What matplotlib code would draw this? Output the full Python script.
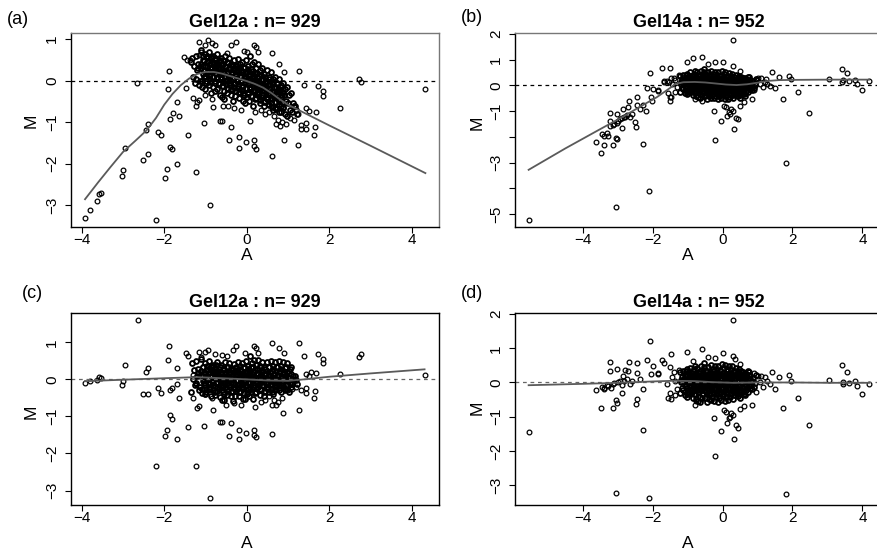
import matplotlib
matplotlib.use("Agg")
import matplotlib.pyplot as plt

plt.rcParams['font.family'] = ['Liberation Sans', 'DejaVu Sans']

W, H = 877, 550

# ---------------- datos ----------------
titles = ["Gel12a : n= 929", "Gel14a : n= 952", "Gel12a : n= 929", "Gel14a : n= 952"]
letters = ["(a)", "(b)", "(c)", "(d)"]

# nucleo denso de Gel12a (mismos A en (a) y (c))
gel12_core_A = [
    -1.32, -1.27, -1.30, -1.25, -1.34,
    -1.22, -1.17, -1.20, -1.24, -1.15, -1.19,
    -1.12, -1.07, -1.10, -1.05, -1.13, -1.08, -1.11,
    -1.02, -0.97, -1.00, -0.95, -1.03, -0.98, -1.01, -0.96,
    -0.92, -0.87, -0.90, -0.85, -0.93, -0.88, -0.91, -0.86, -0.89,
    -0.82, -0.77, -0.80, -0.75, -0.83, -0.78, -0.81, -0.76, -0.79,
    -0.72, -0.67, -0.70, -0.65, -0.73, -0.68, -0.71, -0.66, -0.69, -0.74,
    -0.62, -0.57, -0.60, -0.55, -0.63, -0.58, -0.61, -0.56, -0.59, -0.64,
    -0.52, -0.47, -0.50, -0.45, -0.53, -0.48, -0.51, -0.46, -0.49, -0.54, -0.44,
    -0.42, -0.37, -0.40, -0.35, -0.43, -0.38, -0.41, -0.36, -0.39, -0.44, -0.34,
    -0.32, -0.27, -0.30, -0.25, -0.33, -0.28, -0.31, -0.26, -0.29, -0.34, -0.24,
    -0.22, -0.17, -0.20, -0.15, -0.23, -0.18, -0.21, -0.16, -0.19, -0.24, -0.14,
    -0.12, -0.07, -0.10, -0.05, -0.13, -0.08, -0.11, -0.06, -0.09, -0.14, -0.04,
    -0.02, 0.03, 0.00, 0.05, -0.03, 0.02, -0.01, 0.04, 0.01, -0.04, 0.06,
    0.08, 0.13, 0.10, 0.15, 0.07, 0.12, 0.09, 0.14, 0.11, 0.06, 0.16,
    0.18, 0.23, 0.20, 0.25, 0.17, 0.22, 0.19, 0.24, 0.21, 0.16, 0.26,
    0.28, 0.33, 0.30, 0.35, 0.27, 0.32, 0.29, 0.34, 0.31, 0.26,
    0.38, 0.43, 0.40, 0.45, 0.37, 0.42, 0.39, 0.44, 0.41, 0.36,
    0.48, 0.53, 0.50, 0.55, 0.47, 0.52, 0.49, 0.54, 0.51,
    0.58, 0.63, 0.60, 0.65, 0.57, 0.62, 0.59, 0.64, 0.61,
    0.68, 0.73, 0.70, 0.75, 0.67, 0.72, 0.69, 0.74,
    0.78, 0.83, 0.80, 0.85, 0.77, 0.82, 0.79,
    0.88, 0.93, 0.90, 0.95, 0.87, 0.92,
    0.98, 1.03, 1.00, 1.05, 0.97,
    1.08, 1.13, 1.10, 1.15,
    1.18, 1.23, 1.20,
]
a_core_M = [
    0.55, 0.35, 0.10, -0.05, 0.45,
    0.60, 0.40, 0.25, 0.05, -0.10, 0.30,
    0.75, 0.50, 0.30, 0.15, 0.00, -0.15, 0.40,
    0.65, 0.45, 0.35, 0.20, 0.10, -0.05, -0.20, 0.55,
    0.70, 0.55, 0.40, 0.30, 0.20, 0.05, -0.10, -0.30, 0.15,
    0.60, 0.50, 0.35, 0.25, 0.10, 0.00, -0.15, -0.25, 0.42,
    0.65, 0.45, 0.30, 0.20, 0.10, -0.05, -0.20, -0.35, 0.37, 0.15,
    0.55, 0.40, 0.30, 0.18, 0.08, -0.02, -0.12, -0.25, -0.40, 0.48,
    0.60, 0.45, 0.32, 0.22, 0.12, 0.02, -0.08, -0.20, -0.30, -0.45, 0.27,
    0.55, 0.40, 0.30, 0.20, 0.10, 0.00, -0.10, -0.22, -0.35, 0.05, 0.35,
    0.50, 0.38, 0.28, 0.15, 0.05, -0.05, -0.15, -0.25, -0.38, -0.50, 0.22,
    0.52, 0.40, 0.25, 0.12, 0.02, -0.08, -0.18, -0.30, -0.42, 0.30, 0.08,
    0.45, 0.32, 0.20, 0.10, 0.00, -0.12, -0.22, -0.35, -0.50, 0.25, -0.05,
    0.50, 0.35, 0.22, 0.12, 0.02, -0.08, -0.18, -0.28, -0.40, -0.55, 0.15,
    0.60, 0.40, 0.28, 0.15, 0.05, -0.05, -0.15, -0.25, -0.38, -0.50, 0.00,
    0.45, 0.30, 0.18, 0.08, -0.02, -0.12, -0.22, -0.32, -0.45, -0.60, 0.10,
    0.40, 0.25, 0.12, 0.02, -0.08, -0.18, -0.28, -0.40, -0.55, -0.20,
    0.30, 0.15, 0.05, -0.05, -0.15, -0.25, -0.35, -0.48, -0.62, -0.10,
    0.25, 0.10, 0.00, -0.10, -0.20, -0.32, -0.45, -0.58, -0.30,
    0.20, 0.05, -0.08, -0.18, -0.30, -0.42, -0.55, -0.70, -0.25,
    0.10, -0.05, -0.15, -0.28, -0.40, -0.52, -0.65, -0.35,
    0.05, -0.10, -0.22, -0.35, -0.48, -0.60, -0.75,
    -0.05, -0.20, -0.35, -0.50, -0.65, -0.80,
    -0.15, -0.35, -0.55, -0.70, -0.85,
    -0.30, -0.55, -0.75, -0.62,
    -0.60, -0.80, -0.70,
]
c_core_M = [
    0.45, 0.25, 0.00, -0.15, -0.35,
    0.50, 0.28, 0.10, -0.10, -0.28, 0.18,
    0.55, 0.32, 0.12, -0.05, -0.20, -0.38, 0.22,
    0.45, 0.25, 0.15, 0.00, -0.10, -0.25, -0.40, 0.35,
    0.50, 0.35, 0.20, 0.10, 0.00, -0.12, -0.25, -0.45, 0.28,
    0.40, 0.30, 0.15, 0.05, -0.08, -0.18, -0.30, -0.42, 0.22,
    0.48, 0.28, 0.12, 0.02, -0.08, -0.20, -0.32, -0.48, 0.20, 0.38,
    0.40, 0.25, 0.15, 0.03, -0.07, -0.17, -0.28, -0.40, -0.55, 0.32,
    0.48, 0.32, 0.20, 0.10, 0.00, -0.10, -0.20, -0.32, -0.42, -0.55, 0.15,
    0.45, 0.30, 0.20, 0.10, 0.00, -0.10, -0.20, -0.32, -0.45, -0.05, 0.25,
    0.42, 0.30, 0.20, 0.08, -0.02, -0.12, -0.22, -0.32, -0.45, -0.58, 0.15,
    0.48, 0.35, 0.20, 0.08, -0.02, -0.12, -0.22, -0.34, -0.46, 0.26, 0.04,
    0.43, 0.30, 0.18, 0.08, -0.02, -0.14, -0.24, -0.37, -0.52, 0.23, -0.07,
    0.50, 0.36, 0.23, 0.13, 0.03, -0.07, -0.17, -0.27, -0.39, -0.54, 0.16,
    0.62, 0.44, 0.32, 0.19, 0.09, -0.01, -0.11, -0.21, -0.34, -0.46, 0.04,
    0.53, 0.38, 0.26, 0.16, 0.06, -0.04, -0.14, -0.24, -0.37, -0.52, 0.18,
    0.52, 0.37, 0.24, 0.14, 0.04, -0.06, -0.16, -0.28, -0.43, -0.08,
    0.47, 0.32, 0.22, 0.12, 0.02, -0.08, -0.18, -0.31, -0.45, 0.07,
    0.48, 0.33, 0.23, 0.13, 0.03, -0.09, -0.22, -0.35, -0.07,
    0.50, 0.35, 0.22, 0.12, 0.00, -0.12, -0.25, -0.40, 0.05,
    0.47, 0.32, 0.22, 0.09, -0.03, -0.15, -0.28, 0.02,
    0.50, 0.35, 0.23, 0.10, -0.03, -0.15, -0.30,
    0.46, 0.31, 0.16, 0.01, -0.14, -0.29,
    0.43, 0.23, 0.03, -0.12, -0.27,
    0.33, 0.08, -0.12, 0.01,
    0.08, -0.12, -0.02,
]

# nucleo denso de Gel14a (mismos A en (b) y (d))
gel14_core_A = [
    -1.22, -1.17, -1.20, -1.15, -1.23, -1.18,
    -1.12, -1.07, -1.10, -1.05, -1.13, -1.08, -1.11,
    -1.02, -0.97, -1.00, -0.95, -1.03, -0.98, -1.01, -0.96,
    -0.92, -0.87, -0.90, -0.85, -0.93, -0.88, -0.91, -0.86, -0.89,
    -0.82, -0.77, -0.80, -0.75, -0.83, -0.78, -0.81, -0.76, -0.79, -0.84,
    -0.72, -0.67, -0.70, -0.65, -0.73, -0.68, -0.71, -0.66, -0.69, -0.74,
    -0.62, -0.57, -0.60, -0.55, -0.63, -0.58, -0.61, -0.56, -0.59, -0.64, -0.54,
    -0.52, -0.47, -0.50, -0.45, -0.53, -0.48, -0.51, -0.46, -0.49, -0.54, -0.44,
    -0.42, -0.37, -0.40, -0.35, -0.43, -0.38, -0.41, -0.36, -0.39, -0.44, -0.34,
    -0.32, -0.27, -0.30, -0.25, -0.33, -0.28, -0.31, -0.26, -0.29, -0.34, -0.24,
    -0.22, -0.17, -0.20, -0.15, -0.23, -0.18, -0.21, -0.16, -0.19, -0.24, -0.14,
    -0.12, -0.07, -0.10, -0.05, -0.13, -0.08, -0.11, -0.06, -0.09, -0.14, -0.04,
    -0.02, 0.03, 0.00, 0.05, -0.03, 0.02, -0.01, 0.04, 0.01, -0.04, 0.06,
    0.08, 0.13, 0.10, 0.15, 0.07, 0.12, 0.09, 0.14, 0.11, 0.06, 0.16,
    0.18, 0.23, 0.20, 0.25, 0.17, 0.22, 0.19, 0.24, 0.21, 0.16, 0.26,
    0.28, 0.33, 0.30, 0.35, 0.27, 0.32, 0.29, 0.34, 0.31, 0.26,
    0.38, 0.43, 0.40, 0.45, 0.37, 0.42, 0.39, 0.44, 0.41, 0.36,
    0.48, 0.53, 0.50, 0.55, 0.47, 0.52, 0.49, 0.54, 0.51,
    0.58, 0.63, 0.60, 0.65, 0.57, 0.62, 0.59, 0.64,
    0.68, 0.73, 0.70, 0.75, 0.67, 0.72,
    0.78, 0.83, 0.80, 0.85, 0.77,
    0.88, 0.93, 0.90, 0.95,
]
b_core_M = [
    0.35, 0.20, 0.05, -0.10, -0.25, 0.12,
    0.40, 0.25, 0.10, -0.02, -0.15, -0.30, 0.18,
    0.45, 0.30, 0.18, 0.05, -0.08, -0.20, -0.35, 0.38,
    0.50, 0.35, 0.22, 0.10, 0.00, -0.12, -0.25, -0.38, 0.15,
    0.45, 0.32, 0.20, 0.08, -0.02, -0.14, -0.26, -0.40, 0.55, 0.12,
    0.50, 0.36, 0.24, 0.12, 0.02, -0.10, -0.22, -0.34, -0.46, 0.30,
    0.55, 0.42, 0.30, 0.18, 0.08, -0.02, -0.14, -0.26, -0.38, -0.50, 0.22,
    0.52, 0.40, 0.28, 0.16, 0.06, -0.04, -0.16, -0.28, -0.40, 0.62, 0.10,
    0.50, 0.38, 0.26, 0.14, 0.04, -0.06, -0.18, -0.30, -0.42, -0.52, 0.20,
    0.55, 0.42, 0.30, 0.18, 0.08, -0.02, -0.14, -0.26, -0.38, -0.48, 0.12,
    0.52, 0.40, 0.28, 0.16, 0.06, -0.04, -0.16, -0.28, -0.40, -0.50, 0.24,
    0.50, 0.38, 0.26, 0.14, 0.04, -0.06, -0.18, -0.30, -0.42, -0.54, 0.10,
    0.55, 0.42, 0.30, 0.18, 0.08, -0.02, -0.14, -0.26, -0.38, -0.50, 0.20,
    0.50, 0.38, 0.26, 0.14, 0.04, -0.06, -0.18, -0.30, -0.42, -0.55, 0.08,
    0.48, 0.36, 0.24, 0.12, 0.02, -0.08, -0.20, -0.32, -0.44, -0.52, 0.18,
    0.45, 0.32, 0.20, 0.08, -0.02, -0.14, -0.26, -0.38, -0.50, 0.12,
    0.40, 0.28, 0.16, 0.04, -0.06, -0.18, -0.30, -0.42, 0.22, -0.12,
    0.35, 0.22, 0.10, -0.02, -0.14, -0.26, -0.38, 0.16, -0.48,
    0.30, 0.18, 0.06, -0.06, -0.18, -0.30, 0.12, -0.40,
    0.25, 0.12, 0.00, -0.12, -0.24, 0.06,
    0.20, 0.06, -0.06, -0.18, 0.32,
    0.15, 0.00, -0.12, 0.25,
]
d_core_M = [
    0.30, 0.15, 0.00, -0.15, -0.30, 0.08,
    0.33, 0.18, 0.03, -0.09, -0.22, -0.37, 0.11,
    0.38, 0.23, 0.11, -0.02, -0.15, -0.27, -0.42, 0.31,
    0.43, 0.28, 0.15, 0.03, -0.07, -0.19, -0.32, -0.45, 0.08,
    0.38, 0.25, 0.13, 0.01, -0.09, -0.21, -0.33, -0.47, 0.48, 0.05,
    0.43, 0.29, 0.17, 0.05, -0.05, -0.17, -0.29, -0.41, -0.53, 0.23,
    0.48, 0.35, 0.23, 0.11, 0.01, -0.09, -0.21, -0.33, -0.45, -0.57, 0.15,
    0.46, 0.34, 0.22, 0.10, 0.00, -0.10, -0.22, -0.34, -0.46, 0.56, 0.04,
    0.45, 0.33, 0.21, 0.09, -0.01, -0.11, -0.23, -0.35, -0.47, -0.57, 0.15,
    0.51, 0.38, 0.26, 0.14, 0.04, -0.06, -0.18, -0.30, -0.42, -0.52, 0.08,
    0.49, 0.37, 0.25, 0.13, 0.03, -0.07, -0.19, -0.31, -0.43, -0.53, 0.21,
    0.48, 0.36, 0.24, 0.12, 0.02, -0.08, -0.20, -0.32, -0.44, -0.56, 0.08,
    0.54, 0.41, 0.29, 0.17, 0.07, -0.03, -0.15, -0.27, -0.39, -0.51, 0.19,
    0.50, 0.38, 0.26, 0.14, 0.04, -0.06, -0.18, -0.30, -0.42, -0.55, 0.08,
    0.49, 0.37, 0.25, 0.13, 0.03, -0.07, -0.19, -0.31, -0.43, -0.51, 0.19,
    0.47, 0.34, 0.22, 0.10, 0.00, -0.12, -0.24, -0.36, -0.48, 0.14,
    0.43, 0.31, 0.19, 0.07, -0.03, -0.15, -0.27, -0.39, 0.25, -0.09,
    0.38, 0.25, 0.13, 0.01, -0.11, -0.23, -0.35, 0.19, -0.45,
    0.32, 0.20, 0.08, -0.04, -0.16, -0.28, 0.14, -0.38,
    0.26, 0.13, 0.01, -0.11, -0.23, 0.07,
    0.19, 0.05, -0.07, -0.19, 0.31,
    0.13, -0.02, -0.14, 0.23,
]

# segunda capa del nucleo (A, M), rellena los huecos del centro
a_core2 = [
    (-1.06, 0.60), (-1.03, 0.48), (-1.07, 0.36), (-1.04, 0.24), (-1.02, 0.12), (-1.08, 0.00),
    (-0.96, 0.60), (-0.93, 0.48), (-0.97, 0.36), (-0.94, 0.24), (-0.92, 0.12), (-0.98, 0.00),
    (-0.86, 0.58), (-0.83, 0.46), (-0.87, 0.34), (-0.84, 0.22), (-0.82, 0.10), (-0.88, -0.02),
    (-0.76, 0.55), (-0.73, 0.43), (-0.77, 0.31), (-0.74, 0.19), (-0.72, 0.07), (-0.78, -0.05),
    (-0.66, 0.51), (-0.63, 0.39), (-0.67, 0.27), (-0.64, 0.15), (-0.62, 0.03), (-0.68, -0.09),
    (-0.56, 0.47), (-0.53, 0.35), (-0.57, 0.23), (-0.54, 0.11), (-0.52, -0.01), (-0.58, -0.13),
    (-0.46, 0.43), (-0.43, 0.31), (-0.47, 0.19), (-0.44, 0.07), (-0.42, -0.05), (-0.48, -0.17),
    (-0.36, 0.39), (-0.33, 0.27), (-0.37, 0.15), (-0.34, 0.03), (-0.32, -0.09), (-0.38, -0.21),
    (-0.26, 0.36), (-0.23, 0.24), (-0.27, 0.12), (-0.24, 0.00), (-0.22, -0.12), (-0.28, -0.24),
    (-0.16, 0.33), (-0.13, 0.21), (-0.17, 0.09), (-0.14, -0.03), (-0.12, -0.15), (-0.18, -0.27),
    (-0.06, 0.30), (-0.03, 0.18), (-0.07, 0.06), (-0.04, -0.06), (-0.02, -0.18), (-0.08, -0.30),
    (0.04, 0.27), (0.07, 0.15), (0.03, 0.03), (0.06, -0.09), (0.08, -0.21), (0.02, -0.33),
    (0.14, 0.23), (0.17, 0.11), (0.13, -0.01), (0.16, -0.13), (0.18, -0.25), (0.12, -0.37),
    (0.24, 0.19), (0.27, 0.07), (0.23, -0.05), (0.26, -0.17), (0.28, -0.29), (0.22, -0.41),
    (0.34, 0.14), (0.37, 0.02), (0.33, -0.10), (0.36, -0.22), (0.38, -0.34), (0.32, -0.46),
    (0.44, 0.09), (0.47, -0.03), (0.43, -0.15), (0.46, -0.27), (0.48, -0.39), (0.42, -0.51),
    (0.54, 0.03), (0.57, -0.09), (0.53, -0.21), (0.56, -0.33), (0.58, -0.45), (0.52, -0.57),
    (0.64, -0.03), (0.67, -0.15), (0.63, -0.27), (0.66, -0.39), (0.68, -0.51), (0.62, -0.63),
    (0.74, -0.09), (0.77, -0.21), (0.73, -0.33), (0.76, -0.45), (0.78, -0.57), (0.72, -0.69),
    (0.84, -0.15), (0.87, -0.27), (0.83, -0.39), (0.86, -0.51), (0.88, -0.63), (0.82, -0.75),
]
c_core2 = [
    (-1.06, 0.33), (-1.03, 0.21), (-1.07, 0.09), (-1.04, -0.03), (-1.02, -0.15), (-1.08, -0.27),
    (-0.96, 0.27), (-0.93, 0.15), (-0.97, 0.03), (-0.94, -0.09), (-0.92, -0.21), (-0.98, -0.33),
    (-0.86, 0.33), (-0.83, 0.21), (-0.87, 0.09), (-0.84, -0.03), (-0.82, -0.15), (-0.88, -0.27),
    (-0.76, 0.27), (-0.73, 0.15), (-0.77, 0.03), (-0.74, -0.09), (-0.72, -0.21), (-0.78, -0.33),
    (-0.66, 0.33), (-0.63, 0.21), (-0.67, 0.09), (-0.64, -0.03), (-0.62, -0.15), (-0.68, -0.27),
    (-0.56, 0.27), (-0.53, 0.15), (-0.57, 0.03), (-0.54, -0.09), (-0.52, -0.21), (-0.58, -0.33),
    (-0.46, 0.33), (-0.43, 0.21), (-0.47, 0.09), (-0.44, -0.03), (-0.42, -0.15), (-0.48, -0.27),
    (-0.36, 0.27), (-0.33, 0.15), (-0.37, 0.03), (-0.34, -0.09), (-0.32, -0.21), (-0.38, -0.33),
    (-0.26, 0.33), (-0.23, 0.21), (-0.27, 0.09), (-0.24, -0.03), (-0.22, -0.15), (-0.28, -0.27),
    (-0.16, 0.27), (-0.13, 0.15), (-0.17, 0.03), (-0.14, -0.09), (-0.12, -0.21), (-0.18, -0.33),
    (-0.06, 0.33), (-0.03, 0.21), (-0.07, 0.09), (-0.04, -0.03), (-0.02, -0.15), (-0.08, -0.27),
    (0.04, 0.27), (0.07, 0.15), (0.03, 0.03), (0.06, -0.09), (0.08, -0.21), (0.02, -0.33),
    (0.14, 0.33), (0.17, 0.21), (0.13, 0.09), (0.16, -0.03), (0.18, -0.15), (0.12, -0.27),
    (0.24, 0.27), (0.27, 0.15), (0.23, 0.03), (0.26, -0.09), (0.28, -0.21), (0.22, -0.33),
    (0.34, 0.33), (0.37, 0.21), (0.33, 0.09), (0.36, -0.03), (0.38, -0.15), (0.32, -0.27),
    (0.44, 0.27), (0.47, 0.15), (0.43, 0.03), (0.46, -0.09), (0.48, -0.21), (0.42, -0.33),
    (0.54, 0.33), (0.57, 0.21), (0.53, 0.09), (0.56, -0.03), (0.58, -0.15), (0.52, -0.27),
    (0.64, 0.27), (0.67, 0.15), (0.63, 0.03), (0.66, -0.09), (0.68, -0.21), (0.62, -0.33),
    (0.74, 0.33), (0.77, 0.21), (0.73, 0.09), (0.76, -0.03), (0.78, -0.15), (0.72, -0.27),
    (0.84, 0.27), (0.87, 0.15), (0.83, 0.03), (0.86, -0.09), (0.88, -0.21), (0.82, -0.33),
    (0.94, 0.33), (0.97, 0.21), (0.93, 0.09), (0.96, -0.03), (0.98, -0.15), (0.92, -0.27),
    (1.04, 0.27), (1.07, 0.15), (1.03, 0.03), (1.06, -0.09), (1.08, -0.21), (1.02, -0.33),
]
b_core2 = [
    (-1.06, 0.41), (-1.03, 0.29), (-1.07, 0.17), (-1.04, 0.05), (-1.02, -0.07), (-1.08, -0.19),
    (-0.96, 0.35), (-0.93, 0.23), (-0.97, 0.11), (-0.94, -0.01), (-0.92, -0.13), (-0.98, -0.25),
    (-0.86, 0.41), (-0.83, 0.29), (-0.87, 0.17), (-0.84, 0.05), (-0.82, -0.07), (-0.88, -0.19),
    (-0.76, 0.35), (-0.73, 0.23), (-0.77, 0.11), (-0.74, -0.01), (-0.72, -0.13), (-0.78, -0.25),
    (-0.66, 0.41), (-0.63, 0.29), (-0.67, 0.17), (-0.64, 0.05), (-0.62, -0.07), (-0.68, -0.19),
    (-0.56, 0.35), (-0.53, 0.23), (-0.57, 0.11), (-0.54, -0.01), (-0.52, -0.13), (-0.58, -0.25),
    (-0.46, 0.41), (-0.43, 0.29), (-0.47, 0.17), (-0.44, 0.05), (-0.42, -0.07), (-0.48, -0.19),
    (-0.36, 0.35), (-0.33, 0.23), (-0.37, 0.11), (-0.34, -0.01), (-0.32, -0.13), (-0.38, -0.25),
    (-0.26, 0.37), (-0.23, 0.25), (-0.27, 0.13), (-0.24, 0.01), (-0.22, -0.11), (-0.28, -0.23),
    (-0.16, 0.31), (-0.13, 0.19), (-0.17, 0.07), (-0.14, -0.05), (-0.12, -0.17), (-0.18, -0.29),
    (-0.06, 0.37), (-0.03, 0.25), (-0.07, 0.13), (-0.04, 0.01), (-0.02, -0.11), (-0.08, -0.23),
    (0.04, 0.31), (0.07, 0.19), (0.03, 0.07), (0.06, -0.05), (0.08, -0.17), (0.02, -0.29),
    (0.14, 0.37), (0.17, 0.25), (0.13, 0.13), (0.16, 0.01), (0.18, -0.11), (0.12, -0.23),
    (0.24, 0.31), (0.27, 0.19), (0.23, 0.07), (0.26, -0.05), (0.28, -0.17), (0.22, -0.29),
    (0.34, 0.33), (0.37, 0.21), (0.33, 0.09), (0.36, -0.03), (0.38, -0.15), (0.32, -0.27),
    (0.44, 0.27), (0.47, 0.15), (0.43, 0.03), (0.46, -0.09), (0.48, -0.21), (0.42, -0.33),
    (0.54, 0.33), (0.57, 0.21), (0.53, 0.09), (0.56, -0.03), (0.58, -0.15), (0.52, -0.27),
    (0.64, 0.27), (0.67, 0.15), (0.63, 0.03), (0.66, -0.09), (0.68, -0.21), (0.62, -0.33),
    (0.74, 0.33), (0.77, 0.21), (0.73, 0.09), (0.76, -0.03), (0.78, -0.15), (0.72, -0.27),
]
d_core2 = [
    (-1.06, 0.33), (-1.03, 0.21), (-1.07, 0.09), (-1.04, -0.03), (-1.02, -0.15), (-1.08, -0.27),
    (-0.96, 0.27), (-0.93, 0.15), (-0.97, 0.03), (-0.94, -0.09), (-0.92, -0.21), (-0.98, -0.33),
    (-0.86, 0.33), (-0.83, 0.21), (-0.87, 0.09), (-0.84, -0.03), (-0.82, -0.15), (-0.88, -0.27),
    (-0.76, 0.27), (-0.73, 0.15), (-0.77, 0.03), (-0.74, -0.09), (-0.72, -0.21), (-0.78, -0.33),
    (-0.66, 0.33), (-0.63, 0.21), (-0.67, 0.09), (-0.64, -0.03), (-0.62, -0.15), (-0.68, -0.27),
    (-0.56, 0.27), (-0.53, 0.15), (-0.57, 0.03), (-0.54, -0.09), (-0.52, -0.21), (-0.58, -0.33),
    (-0.46, 0.33), (-0.43, 0.21), (-0.47, 0.09), (-0.44, -0.03), (-0.42, -0.15), (-0.48, -0.27),
    (-0.36, 0.27), (-0.33, 0.15), (-0.37, 0.03), (-0.34, -0.09), (-0.32, -0.21), (-0.38, -0.33),
    (-0.26, 0.33), (-0.23, 0.21), (-0.27, 0.09), (-0.24, -0.03), (-0.22, -0.15), (-0.28, -0.27),
    (-0.16, 0.27), (-0.13, 0.15), (-0.17, 0.03), (-0.14, -0.09), (-0.12, -0.21), (-0.18, -0.33),
    (-0.06, 0.33), (-0.03, 0.21), (-0.07, 0.09), (-0.04, -0.03), (-0.02, -0.15), (-0.08, -0.27),
    (0.04, 0.27), (0.07, 0.15), (0.03, 0.03), (0.06, -0.09), (0.08, -0.21), (0.02, -0.33),
    (0.14, 0.33), (0.17, 0.21), (0.13, 0.09), (0.16, -0.03), (0.18, -0.15), (0.12, -0.27),
    (0.24, 0.27), (0.27, 0.15), (0.23, 0.03), (0.26, -0.09), (0.28, -0.21), (0.22, -0.33),
    (0.34, 0.33), (0.37, 0.21), (0.33, 0.09), (0.36, -0.03), (0.38, -0.15), (0.32, -0.27),
    (0.44, 0.27), (0.47, 0.15), (0.43, 0.03), (0.46, -0.09), (0.48, -0.21), (0.42, -0.33),
    (0.54, 0.33), (0.57, 0.21), (0.53, 0.09), (0.56, -0.03), (0.58, -0.15), (0.52, -0.27),
    (0.64, 0.27), (0.67, 0.15), (0.63, 0.03), (0.66, -0.09), (0.68, -0.21), (0.62, -0.33),
    (0.74, 0.33), (0.77, 0.21), (0.73, 0.09), (0.76, -0.03), (0.78, -0.15), (0.72, -0.27),
]

# puntos sueltos (A, M)
a_sparse = [
    (-3.92, -3.31), (-3.80, -3.12), (-3.64, -2.90), (-3.57, -2.74), (-3.54, -2.72),
    (-3.03, -2.31), (-3.01, -2.15), (-2.95, -1.63), (-2.51, -1.91), (-2.40, -1.77),
    (-2.44, -1.20), (-2.39, -1.04), (-2.65, -0.05), (-2.15, -1.24), (-2.08, -1.32),
    (-2.21, -3.36), (-1.98, -2.34), (-1.94, -2.13), (-1.92, -0.21), (-1.88, 0.24),
    (-1.86, -0.92), (-1.85, -1.61), (-1.81, -1.65), (-1.78, -0.77), (-1.70, -2.01),
    (-1.69, -0.51), (-1.65, -0.86), (-1.48, -0.17), (-1.42, -1.31), (-1.22, -2.20),
    (-1.30, -0.41), (-1.23, -0.60), (-1.21, -0.52), (-1.15, -0.47), (-1.04, -1.02),
    (-0.90, -3.00), (-0.81, -0.64), (-0.64, -0.98), (-0.60, -0.98), (-0.57, -0.62),
    (-0.43, -1.43), (-0.37, -1.12), (-0.19, -1.62), (-0.19, -1.36), (-0.03, -1.48),
    (0.07, -0.98), (0.17, -1.43), (0.18, -1.58), (0.22, -1.65), (0.62, -1.81),
    (0.90, -1.43), (1.24, -1.54), (1.27, 0.24), (1.38, -0.11), (1.32, -1.06),
    (1.32, -1.16), (1.43, -1.16), (1.43, -1.02), (1.63, -1.30), (1.65, -1.12),
    (1.69, -0.76), (1.73, -0.13), (1.85, -0.26), (1.85, -0.38), (2.27, -0.65),
    (2.73, 0.05), (2.76, -0.04), (4.31, -0.20), (1.52, -0.72), (1.44, -0.65),
    (-1.16, 0.62), (-1.10, 0.70), (-1.15, 0.93), (-1.02, 0.85), (-0.94, 0.98),
    (-0.85, 0.90), (-0.77, 0.86), (-0.49, 0.66), (-0.39, 0.85), (-0.25, 0.93),
    (-0.06, 0.72), (0.01, 0.68), (0.17, 0.85), (0.22, 0.81), (0.27, 0.68),
    (0.62, 0.66), (0.78, 0.40), (0.90, 0.20), (-1.52, 0.56), (-1.44, 0.50),
    (-1.38, 0.51), (0.55, -0.75), (0.65, -0.85), (0.75, -0.95), (0.85, -1.00),
    (0.95, -1.05), (1.05, -0.90), (0.70, -1.05), (0.80, -1.10), (0.45, -0.80),
    (0.35, -0.70), (1.15, -0.95), (1.25, -0.80), (-0.15, -0.70), (-0.30, -0.65),
    (-0.45, -0.60), (0.20, -0.75), (-1.00, -0.35), (-0.85, -0.45),
]
c_sparse = [
    (-3.92, -0.10), (-3.80, -0.05), (-3.64, -0.03), (-3.57, 0.06), (-3.54, 0.04),
    (-3.03, -0.16), (-3.01, -0.05), (-2.95, 0.39), (-2.63, 1.60), (-2.44, 0.20),
    (-2.39, 0.30), (-2.51, -0.40), (-2.40, -0.40), (-2.15, -0.23), (-2.08, -0.38),
    (-2.21, -2.33), (-1.98, -1.53), (-1.94, -1.37), (-1.92, 0.51), (-1.88, 0.91),
    (-1.86, -0.28), (-1.81, -0.22), (-1.85, -0.96), (-1.81, -1.07), (-1.70, 0.30),
    (-1.69, -0.12), (-1.65, -0.49), (-1.70, -1.62), (-1.48, 0.71), (-1.42, 0.64),
    (-1.42, -1.28), (-1.22, -2.35), (-1.30, 0.11), (-1.23, -0.12), (-1.15, -0.72),
    (-1.21, -0.77), (-1.04, -1.25), (-0.88, -3.20), (-0.81, -0.83), (-0.64, -1.14),
    (-0.60, -1.14), (-0.43, -1.54), (-0.37, -1.17), (-0.19, -1.62), (-0.19, -1.37),
    (-0.03, -1.46), (0.17, -1.37), (0.18, -1.50), (0.22, -1.56), (0.62, -1.48),
    (0.88, -0.90), (1.27, -0.83), (1.27, 0.97), (1.38, 0.64), (1.32, -0.30),
    (1.43, -0.38), (1.43, -0.23), (1.63, -0.49), (1.65, -0.31), (1.69, 0.17),
    (1.73, 0.68), (1.85, 0.55), (1.85, 0.45), (2.27, 0.15), (2.73, 0.60),
    (2.76, 0.69), (4.31, 0.12), (1.52, 0.09), (1.44, 0.15), (1.56, 0.19),
    (-1.16, 0.73), (-1.00, 0.75), (-0.94, 0.78), (-0.77, 0.69), (-0.25, 0.91),
    (0.17, 0.91), (0.22, 0.84), (0.27, 0.71), (0.62, 0.97), (0.78, 0.84),
    (0.90, 0.71), (-0.33, 0.80), (-0.05, 0.71), (-0.49, 0.64), (0.55, -0.45),
    (0.65, -0.55), (0.75, -0.60), (0.85, -0.50), (0.70, -0.70), (0.60, -0.70),
    (0.45, -0.55), (0.35, -0.60), (1.00, -0.30), (1.10, -0.25), (1.20, -0.20),
    (-0.15, -0.70), (-0.30, -0.65), (-0.50, -0.70), (0.20, -0.75), (-1.00, -0.40),
    (-0.85, -0.50), (-1.30, -0.50), (-1.10, 0.60), (-0.60, 0.65),
]
b_sparse = [
    (-5.55, -5.22), (-3.05, -4.72), (-2.12, -4.09), (-0.23, -2.11), (1.82, -3.03),
    (0.29, 1.77), (2.46, -1.07), (1.74, -0.55), (2.15, -0.26), (-3.62, -2.22),
    (-3.48, -2.64), (-3.38, -2.32), (-3.27, -1.96), (-3.22, -1.08), (-3.22, -1.37),
    (-3.13, -2.31), (-3.06, -2.05), (-3.03, -2.08), (-3.03, -1.12), (-2.89, -1.66),
    (-2.84, -0.92), (-2.79, -1.22), (-2.70, -0.86), (-2.67, -0.60), (-2.50, -1.44),
    (-2.47, -1.63), (-2.46, -0.47), (-2.44, -0.75), (-2.36, -0.92), (-2.29, -2.26),
    (-2.29, -0.78), (-2.17, -0.10), (-2.09, 0.47), (-2.05, -0.47), (-2.20, -0.98),
    (-2.02, -0.62), (-1.98, -0.14), (-1.84, -0.18), (-1.73, 0.68), (-1.50, -0.62),
    (-1.48, -0.47), (-1.67, 0.12), (-1.54, 0.13), (-1.48, 0.29), (-3.45, -1.89),
    (-3.40, -1.95), (-3.31, -1.86), (-3.22, -1.57), (-3.15, -1.53), (-3.10, -1.50),
    (-3.03, -1.48), (-2.98, -1.37), (-2.93, -1.31), (-2.89, -1.27), (-2.81, -1.24),
    (-2.74, -1.14), (-2.65, -1.22), (-2.60, -1.11), (-1.03, 0.92), (-0.85, 1.07),
    (-0.60, 1.09), (-0.42, 0.83), (-0.23, 0.90), (0.02, 0.90), (0.29, 0.74),
    (0.50, 0.57), (1.41, 0.51), (1.62, 0.34), (1.90, 0.38), (1.95, 0.25),
    (3.05, 0.23), (3.43, 0.64), (3.56, 0.48), (3.43, 0.12), (3.62, 0.15),
    (3.79, 0.21), (3.84, 0.06), (4.00, -0.17), (4.19, 0.15), (3.44, 0.21),
    (1.07, 0.05), (1.17, -0.08), (1.26, 0.05), (1.36, -0.01), (1.50, -0.10),
    (0.90, -0.18), (0.83, -0.55), (1.00, 0.30), (1.10, 0.28), (1.25, 0.25),
    (1.20, 0.12), (0.95, 0.20), (-0.26, -0.98), (-0.04, -1.37), (0.09, -0.85),
    (0.14, -1.18), (0.21, -1.10), (0.33, -1.70), (0.39, -1.27), (0.45, -1.31),
    (0.24, -0.92), (0.31, -0.98), (0.17, -1.02), (0.05, -0.79), (0.50, -0.79),
    (-0.60, -0.60), (-0.80, -0.55), (0.60, -0.65), (-1.60, 0.15), (-1.45, 0.05),
    (-1.35, 0.20), (-1.30, -0.05), (-1.40, 0.30), (-1.25, 0.40), (-1.55, -0.30),
    (-1.35, -0.25), (-1.84, -0.21), (-1.69, 0.18), (-1.50, 0.66), (-1.50, -0.47),
]
d_sparse = [
    (-5.55, -1.46), (-3.05, -3.22), (-2.12, -3.37), (-0.23, -2.16), (1.82, -3.27),
    (0.29, 1.82), (2.46, -1.24), (1.74, -0.74), (2.15, -0.45), (-2.09, 1.21),
    (-2.29, -1.39), (-3.48, -0.76), (-3.62, -0.21), (-3.13, -0.74), (-3.06, -0.52),
    (-3.03, -0.59), (-3.38, -0.16), (-3.27, -0.10), (-3.22, 0.60), (-3.22, 0.33),
    (-3.03, 0.40), (-2.84, 0.19), (-2.79, 0.37), (-2.67, 0.60), (-2.70, 0.33),
    (-2.89, -0.30), (-2.46, 0.57), (-2.44, 0.28), (-2.47, -0.63), (-2.46, -0.48),
    (-2.36, 0.11), (-2.29, -0.18), (-2.17, 0.65), (-2.05, 0.24), (-1.98, 0.48),
    (-1.84, 0.29), (-1.84, 0.24), (-1.73, 0.65), (-1.67, 0.58), (-1.50, -0.32),
    (-1.48, -0.47), (-1.47, 0.82), (-1.03, 0.89), (-0.60, 0.98), (-0.85, 0.62),
    (-3.45, -0.12), (-3.40, -0.18), (-3.31, -0.08), (-3.15, -0.05), (-3.10, -0.02),
    (-2.98, 0.02), (-2.93, 0.05), (-2.81, 0.03), (-2.74, 0.10), (-2.65, -0.03),
    (-2.60, 0.05), (-2.89, -0.07), (-3.20, -0.15), (-0.04, -1.43), (-0.26, -1.05),
    (0.09, -0.85), (0.17, -1.05), (0.14, -1.19), (0.21, -1.00), (0.33, -1.66),
    (0.39, -1.24), (0.45, -1.34), (0.50, -0.78), (0.83, -0.66), (0.24, -0.90),
    (0.31, -0.95), (0.05, -0.80), (-0.80, -0.65), (-0.75, -0.55), (0.60, -0.70),
    (1.41, 0.32), (1.62, 0.16), (1.90, 0.21), (1.95, 0.05), (3.05, 0.06),
    (3.43, 0.50), (3.56, 0.31), (3.44, -0.03), (3.44, 0.02), (3.62, -0.01),
    (3.79, 0.04), (3.84, -0.11), (4.00, -0.34), (4.19, -0.03), (0.96, -0.29),
    (1.07, 0.00), (1.17, -0.12), (1.26, 0.05), (1.36, -0.05), (1.50, -0.20),
    (1.00, 0.20), (1.10, 0.18), (1.20, 0.15), (0.90, 0.28), (-1.60, -0.05),
    (-1.45, 0.15), (-1.35, 0.05), (-1.30, -0.20), (-1.40, 0.30), (-1.25, 0.35),
    (-1.55, -0.45), (-1.35, -0.38), (-1.50, 0.45), (-0.42, 0.75), (-0.23, 0.72),
    (0.02, 0.85), (0.29, 0.78), (0.50, 0.55), (0.35, 0.70),
]

# curvas loess
a_loess_A = [-3.92, -3.6, -3.3, -3.0, -2.7, -2.43, -2.2, -2.0, -1.8, -1.6, -1.4, -1.2, -1.0,
             -0.8, -0.6, -0.4, -0.2, 0.0, 0.2, 0.4, 0.6, 0.8, 1.0, 1.3, 2.0, 3.0, 4.33]
a_loess_M = [-2.86, -2.45, -2.08, -1.72, -1.45, -1.20, -0.90, -0.58, -0.32, -0.11, 0.05, 0.16, 0.21,
             0.21, 0.17, 0.11, 0.05, -0.01, -0.08, -0.17, -0.30, -0.45, -0.58, -0.73, -1.08, -1.57, -2.23]
b_loess_A = [-5.55, -4.5, -3.5, -2.8, -2.36, -1.88, -1.5, -1.36, -1.12, -0.8, -0.5, -0.2, 0.1,
             0.4, 0.7, 1.0, 1.3, 1.6, 2.0, 3.0, 4.19]
b_loess_M = [-3.28, -2.45, -1.70, -1.18, -0.83, -0.46, -0.10, 0.05, 0.12, 0.13, 0.11, 0.07, 0.03,
             0.01, 0.04, 0.10, 0.17, 0.20, 0.21, 0.22, 0.22]
c_loess_A = [-3.92, -3.0, -2.0, -1.2, -0.6, 0.0, 0.5, 1.0, 1.3, 2.0, 3.0, 4.31]
c_loess_M = [-0.05, -0.01, 0.03, 0.06, 0.03, 0.00, -0.03, -0.04, -0.01, 0.07, 0.16, 0.27]
d_loess_A = [-5.55, -4.0, -3.0, -2.0, -1.4, -0.8, -0.3, 0.3, 1.0, 2.0, 3.0, 4.19]
d_loess_M = [-0.08, -0.04, -0.01, 0.03, 0.05, 0.04, 0.01, -0.01, 0.00, 0.00, -0.01, -0.01]

xlims = [(-4.26, 4.66), (-5.94, 4.59), (-4.26, 4.66), (-5.94, 4.59)]
ylims = [(-3.53, 1.15), (-5.50, 2.03), (-3.39, 1.79), (-3.58, 2.03)]
yticks = [[-3, -2, -1, 0, 1], [-5, -4, -3, -2, -1, 0, 1, 2], [-3, -2, -1, 0, 1], [-3, -2, -1, 0, 1, 2]]
ytick_labels = [["\u22123", "\u22122", "\u22121", "0", "1"],
                ["\u22125", "", "\u22123", "", "\u22121", "0", "1", "2"],
                ["\u22123", "\u22122", "\u22121", "0", "1"],
                ["\u22123", "\u22122", "\u22121", "0", "1", "2"]]
xticks = [-4, -2, 0, 2, 4]
xtick_labels = ["\u22124", "\u22122", "0", "2", "4"]

# ---------------- figura ----------------
fig = plt.figure(figsize=(W / 100, H / 100), dpi=100)

# posiciones en pixeles: izquierda, derecha, arriba, abajo
boxes = [(71, 439, 33, 227), (515, 883, 33, 227), (71, 439, 313, 505), (515, 883, 313, 505)]
letter_pos = [(18, 20), (472, 18), (32, 293), (472, 293)]
xlab_pos = [(247, 256), (688, 256), (247, 544), (688, 544)]
ylab_pos = [(31, 121), (477, 123), (31, 412), (477, 408)]
edge_grey = [True, True, False, False]

panels = [
    (gel12_core_A, a_core_M, a_core2, a_sparse, a_loess_A, a_loess_M, 'black'),
    (gel14_core_A, b_core_M, b_core2, b_sparse, b_loess_A, b_loess_M, 'black'),
    (gel12_core_A, c_core_M, c_core2, c_sparse, c_loess_A, c_loess_M, '#666666'),
    (gel14_core_A, d_core_M, d_core2, d_sparse, d_loess_A, d_loess_M, '#666666'),
]

for i, (core_A, core_M, core2, sparse, lo_A, lo_M, dash_col) in enumerate(panels):
    l, r, t, b = boxes[i]
    ax = fig.add_axes([l / W, 1 - b / H, (r - l) / W, (b - t) / H])

    c2_A = [p[0] for p in core2]
    c2_M = [p[1] for p in core2]
    sp_A = [p[0] for p in sparse]
    sp_M = [p[1] for p in sparse]
    # en el centro los circulos se solapan y se ven casi negros
    ax.plot(core_A, core_M, 'o', ms=3.5, mfc='none', mec='black', mew=1.35)
    ax.plot(c2_A, c2_M, 'o', ms=3.5, mfc='none', mec='black', mew=1.35)
    ax.plot(sp_A, sp_M, 'o', ms=3.4, mfc='none', mec='black', mew=0.9)
    ax.axhline(0, color=dash_col, lw=0.9, ls=(0, (3, 3)))
    ax.plot(lo_A, lo_M, color='#5a5a5a', lw=1.3)

    ax.set_xlim(*xlims[i])
    ax.set_ylim(*ylims[i])
    ax.set_xticks(xticks)
    ax.set_xticklabels(xtick_labels)
    ax.set_yticks(yticks[i])
    ax.set_yticklabels(ytick_labels[i], rotation=90, va='center')
    ax.tick_params(direction='out', length=4.5, width=0.8, labelsize=11)
    ax.tick_params(axis='x', pad=0)
    ax.tick_params(axis='y', pad=4)
    for s in ax.spines.values():
        s.set_linewidth(1.0)
    if edge_grey[i]:
        ax.spines['top'].set_color('#777777')
        ax.spines['right'].set_color('#777777')
    ax.set_title(titles[i], fontsize=13, fontweight='bold', pad=4)

    fig.text(letter_pos[i][0] / W, 1 - letter_pos[i][1] / H, letters[i],
             ha='center', va='center', fontsize=13)
    fig.text(xlab_pos[i][0] / W, 1 - xlab_pos[i][1] / H, 'A',
             ha='center', va='center', fontsize=12.5)
    fig.text(ylab_pos[i][0] / W, 1 - ylab_pos[i][1] / H, 'M',
             ha='center', va='center', fontsize=12.5, rotation=90)

fig.savefig('out.png', dpi=100)
